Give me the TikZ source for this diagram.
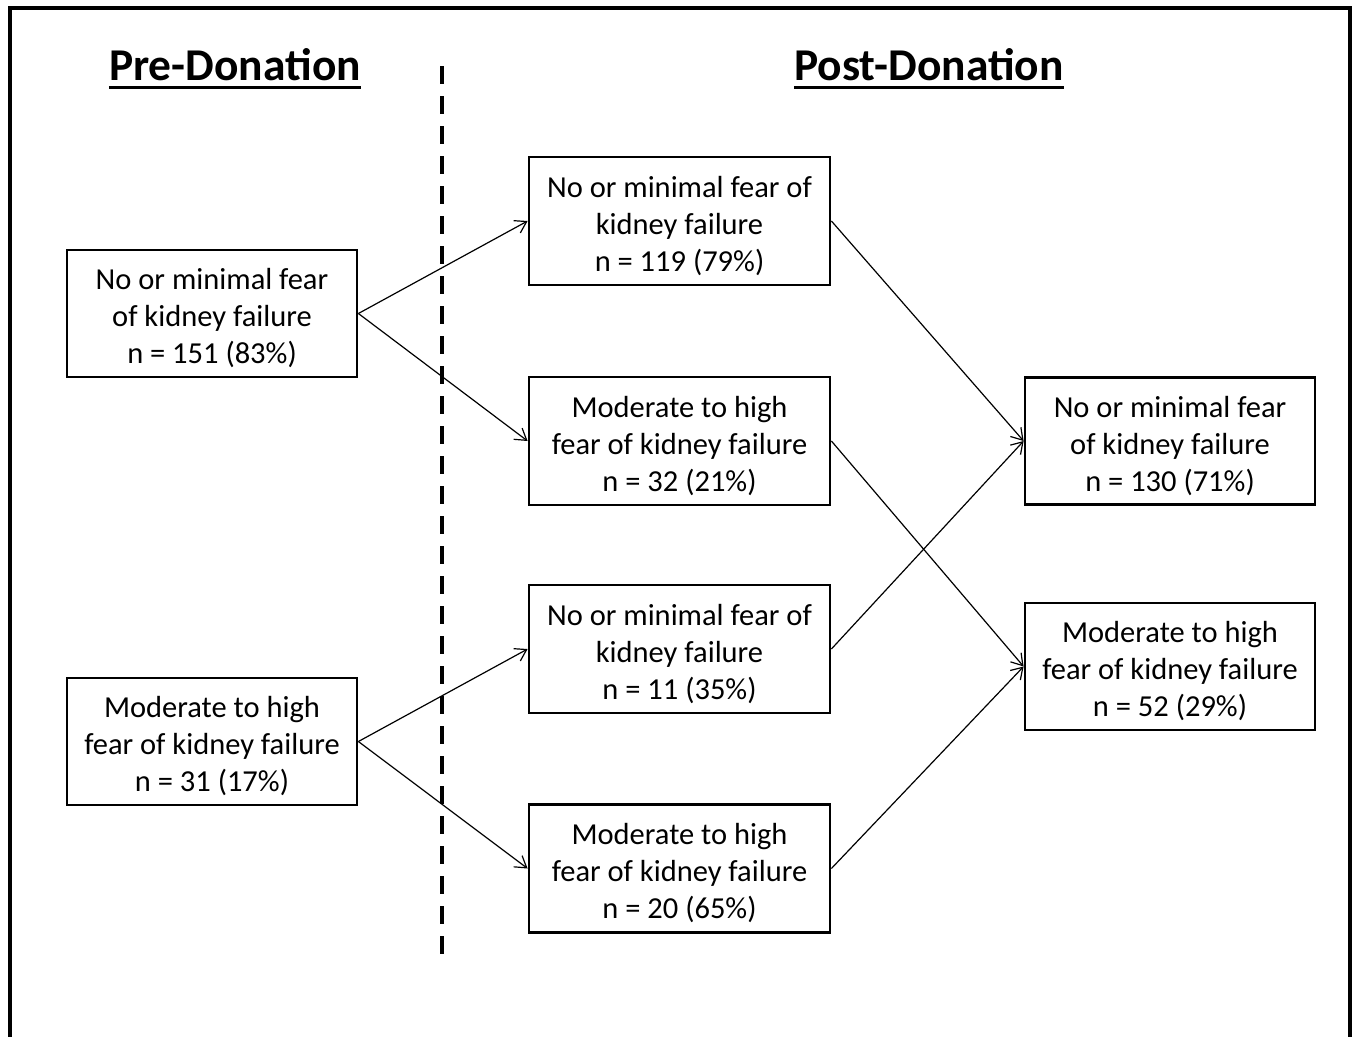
\documentclass[tikz,border=0pt]{standalone}
\usepackage{fontspec}
\setmainfont{Carlito}
\usetikzlibrary{arrows.meta}
\newcommand{\topst}{\rule{0pt}{31pt}}
\begin{document}
\begin{tikzpicture}[x=1pt,y=-1pt,
  box/.style={draw,line width=2.8pt,align=center,inner sep=0pt,
    font=\fontsize{30.5}{37}\selectfont},
  sbox/.style={box,minimum width=290,minimum height=127},
  mbox/.style={box,minimum width=301,minimum height=128},
  flow/.style={-{Straight Barb[length=11pt,width=14pt,line width=1.2pt]},line width=1.2pt},
  head/.style={font=\fontsize{45.5}{50}\selectfont\bfseries,inner sep=0pt,anchor=base},
  uline/.style={line width=3pt}]
\useasboundingbox (0,0) rectangle (1357,1036);
\draw[line width=3.5pt] (10,1060) -- (10,8) -- (1350,8) -- (1350,1060);
\node[head] (pre) at (235,80) {Pre-Donation};
\node[head] (post) at (929,80) {Post-Donation};
\draw[uline] ([yshift=-7.5pt]pre.base west) -- ([yshift=-7.5pt]pre.base east);
\draw[uline] ([yshift=-7.5pt]post.base west) -- ([yshift=-7.5pt]post.base east);
\coordinate (d1) at (442,66);
\coordinate (d2) at (442,955);
\draw[line width=3.5pt,dash pattern=on 18pt off 12pt] (d1) -- (d2);
\node[sbox] (A) at (212,313.5) {\topst No or minimal fear\\of kidney failure\\n = 151 (83\%)};
\node[sbox] (B) at (212,741.5) {\topst Moderate to high\\fear of kidney failure\\n = 31 (17\%)};
\node[mbox] (C) at (679.5,221) {\topst No or minimal fear of\\kidney failure\\n = 119 (79\%)};
\node[mbox] (D) at (679.5,441) {\topst Moderate to high\\fear of kidney failure\\n = 32 (21\%)};
\node[mbox] (E) at (679.5,649) {\topst No or minimal fear of\\kidney failure\\n = 11 (35\%)};
\node[mbox] (F) at (679.5,868.5) {\topst Moderate to high\\fear of kidney failure\\n = 20 (65\%)};
\node[sbox] (G) at (1170,441) {\topst No or minimal fear\\of kidney failure\\n = 130 (71\%)};
\node[sbox] (H) at (1170,666.5) {\topst Moderate to high\\fear of kidney failure\\n = 52 (29\%)};
\draw[flow] (A.east) -- (C.west);
\draw[flow] (A.east) -- (D.west);
\draw[flow] (B.east) -- (E.west);
\draw[flow] (B.east) -- (F.west);
\draw[flow] (C.east) -- (G.west);
\draw[flow] (E.east) -- (G.west);
\draw[flow] (D.east) -- (H.west);
\draw[flow] (F.east) -- (H.west);
\end{tikzpicture}
\end{document}
